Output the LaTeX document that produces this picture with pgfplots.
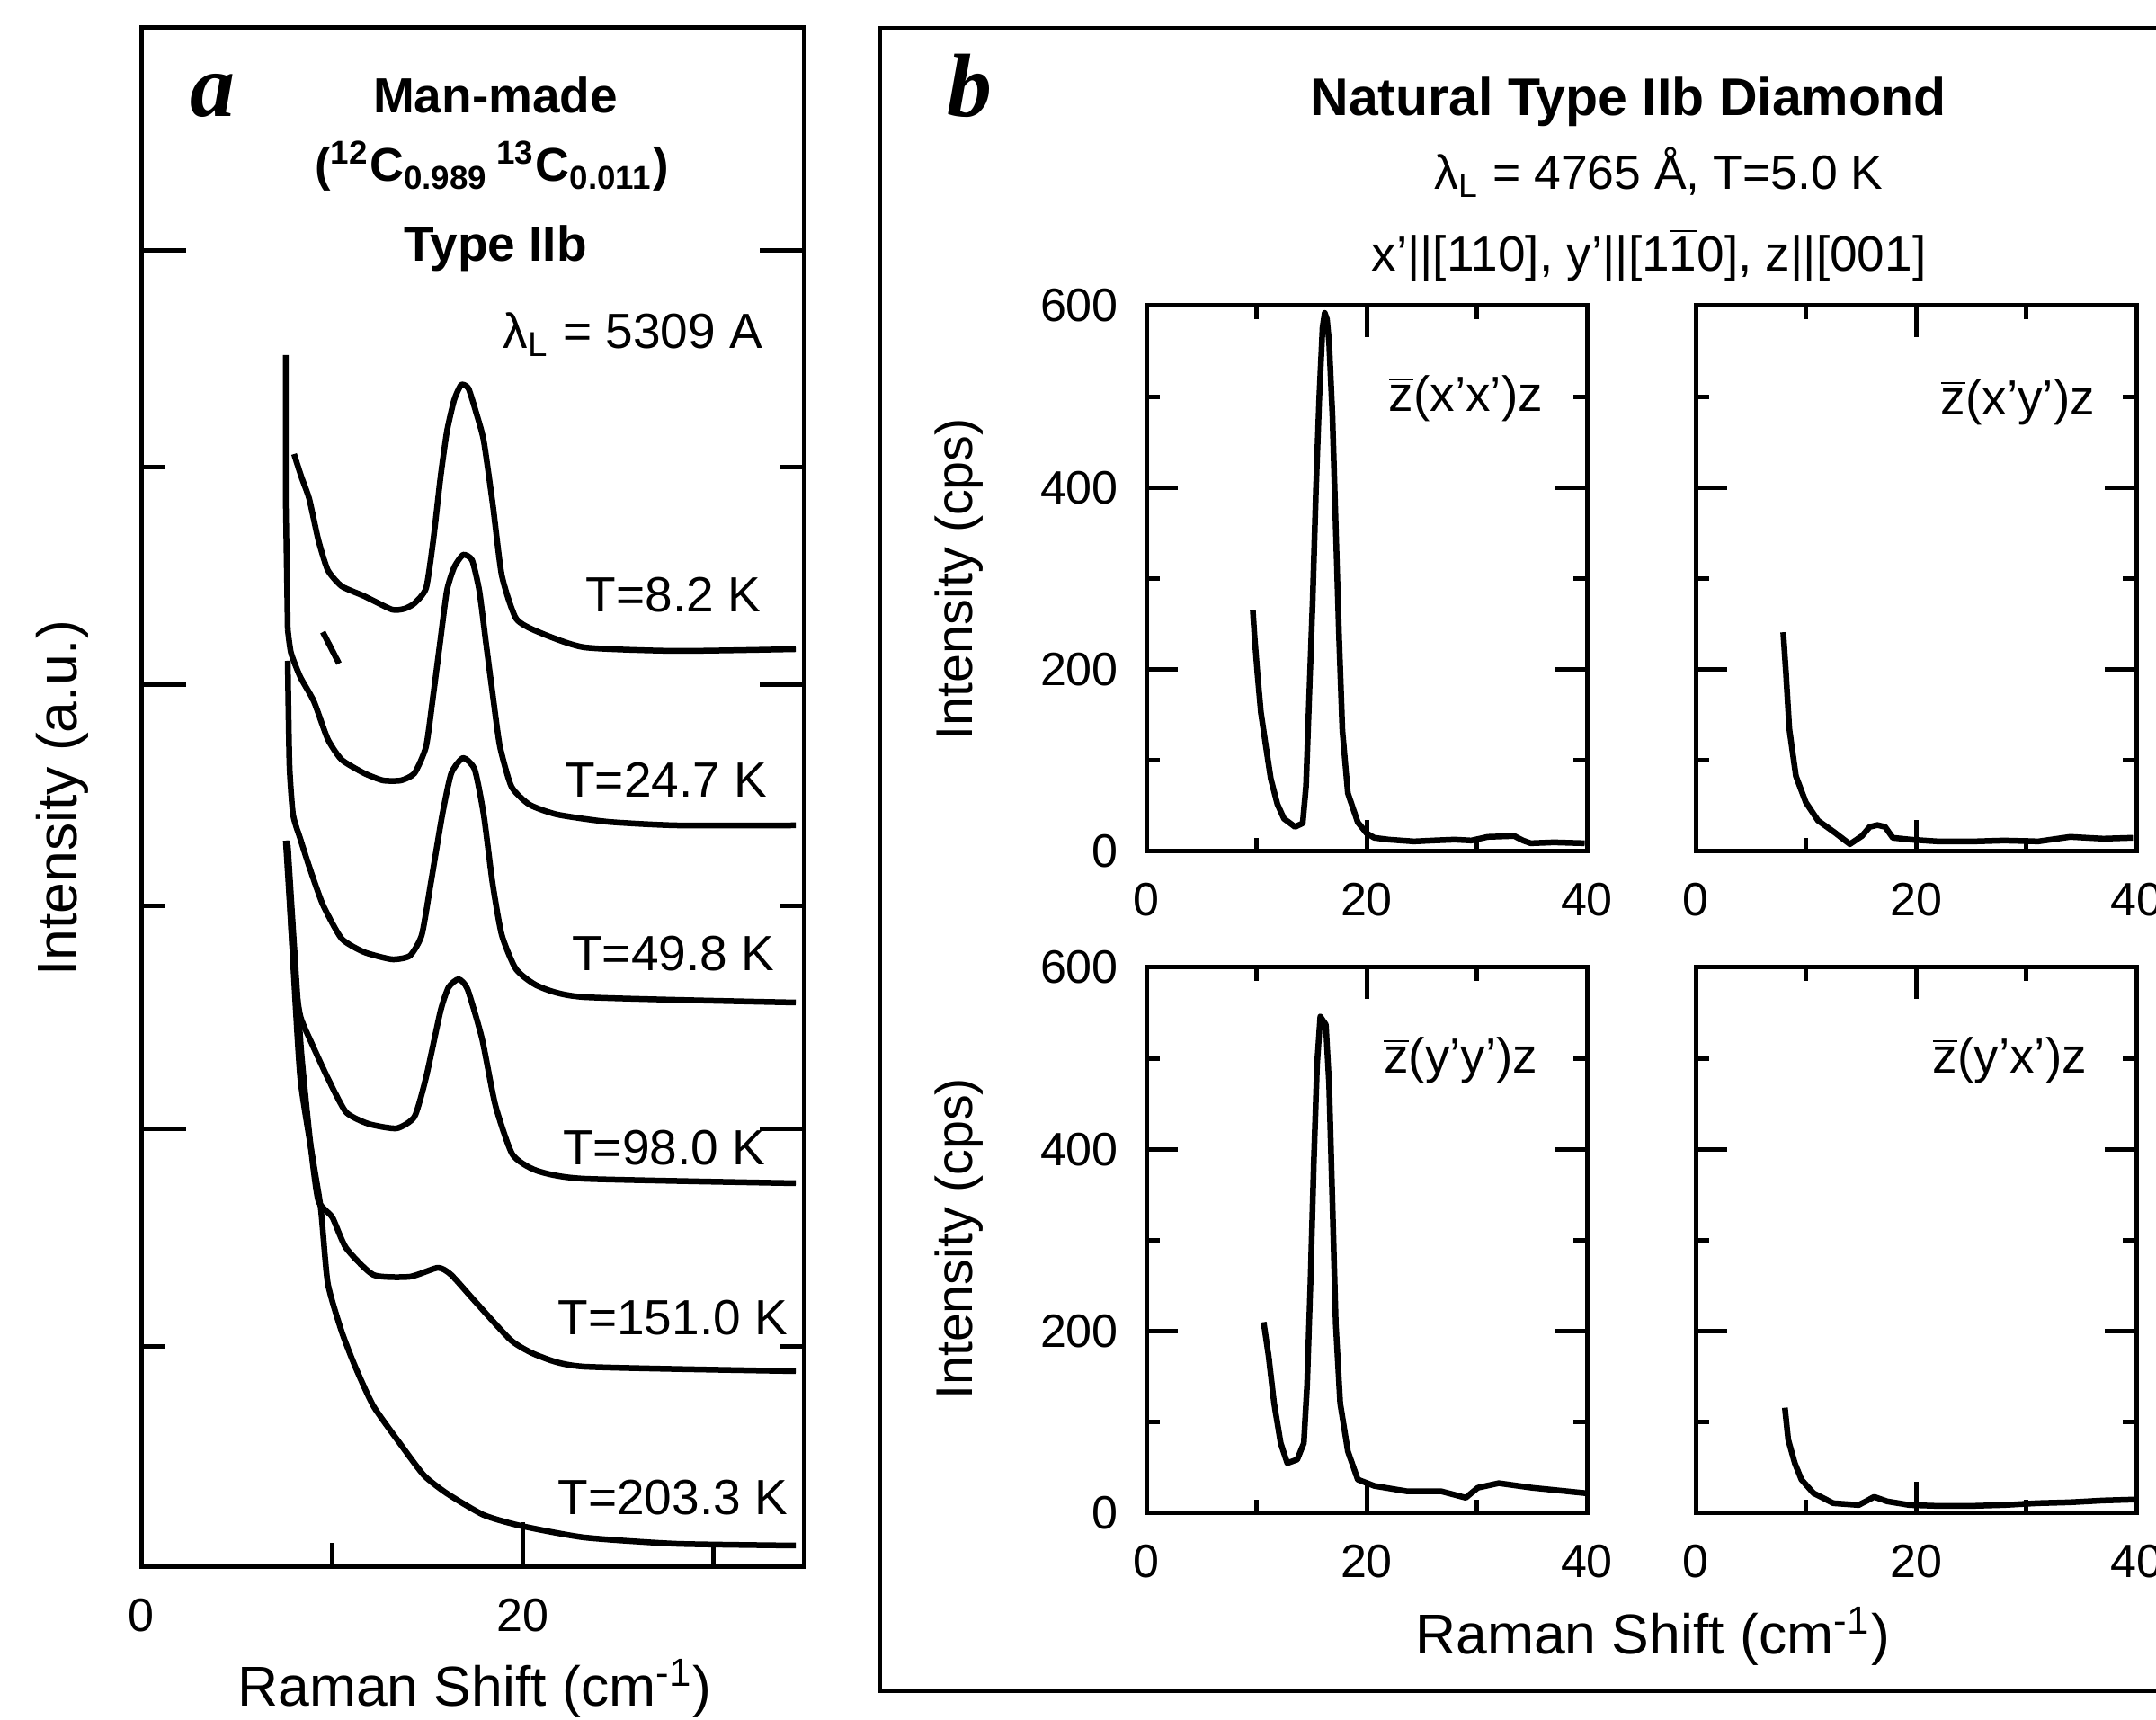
\documentclass[border=0pt]{standalone}
\usepackage{fontspec}
\setmainfont{Liberation Sans}
\newfontfamily\serifbi{Liberation Serif}
\usepackage{pgfplots}
\pgfplotsset{compat=1.18}
\pgfplotsset{
  every axis/.append style={
    scale only axis,
    axis line style={line width=1pt},
    tick align=inside,
    every tick/.append style={line width=1pt, black},
    /pgf/number format/assume math mode=true,
    tick label style={font=\fontsize{10.4}{12}\selectfont},
    xticklabel style={yshift=-3.5pt},
    yticklabel style={xshift=-2.7pt},
  },
  curve/.style={black, solid, line width=1.3pt, line join=round, mark=none},
  scurve/.style={curve, smooth, tension=0.35},
  sub/.style={
    width=98pt, height=121.4pt,
    xmin=0, xmax=40, ymin=0, ymax=600,
    xtick={0,20,40}, minor xtick={10,30},
    ytick={0,200,400,600}, minor ytick={100,300,500},
    major tick length=7pt, minor tick length=3pt,
  },
}
\begin{document}
\begin{tikzpicture}
\useasboundingbox (0,0) rectangle (479.6pt,382.6pt);
\fill[white] (0,0) rectangle (479.6pt,382.6pt);

% ---------------- panel a ----------------
\begin{axis}[at={(31.4pt,34pt)}, anchor=south west,
  width=147.6pt, height=342.4pt,
  xmin=0, xmax=34.81, ymin=0, ymax=1712,
  xtick={0,20}, minor xtick={10,30}, xtick pos=left,
  ytick={487,981,1464}, minor ytick={245,735,1223}, yticklabels={},
  major tick length=10pt, minor tick length=5.4pt,
  xlabel={Raman Shift (cm\textsuperscript{-1})},
  ylabel={Intensity (a.u.)},
  xlabel style={at={(axis description cs:0.5027,-0.0789)}, anchor=center, font=\fontsize{12.5}{15}\selectfont},
  ylabel style={at={(axis description cs:-0.1192,0.4994)}, anchor=center, font=\fontsize{12.5}{15}\selectfont},
]
% T=8.2 K
\addplot[scurve] coordinates {(8.02,1238) (8.40,1213) (8.82,1188) (9.29,1143) (9.79,1109) (10.52,1091) (11.70,1080) (13.16,1065) (13.82,1066) (14.34,1072) (14.95,1089) (15.33,1143) (15.71,1213) (16.04,1263) (16.42,1298) (16.79,1315) (17.17,1311) (17.59,1283) (17.97,1253) (18.44,1183) (18.92,1103) (19.67,1055) (20.85,1040) (23.25,1023) (28.07,1019) (34.34,1021)};
% T=24.7 K
\addplot[curve] coordinates {(7.59,1348) (7.59,1183) (7.69,1043)};
\addplot[scurve] coordinates {(7.69,1043) (7.86,1017) (8.35,990) (9.06,963) (9.79,921) (10.52,898) (11.70,883) (12.69,875) (13.63,875) (14.34,883) (14.95,913) (15.33,971) (15.68,1028) (16.04,1086) (16.42,1112) (16.89,1126) (17.36,1120) (17.74,1086) (18.09,1028) (18.44,971) (18.82,913) (19.43,868) (20.38,848) (21.84,837) (24.48,829) (28.07,825) (34.34,825)};
% stray mark
\addplot[curve] coordinates {(9.53,1040) (10.38,1005)};
% T=49.8 K
\addplot[scurve] coordinates {(7.69,1008) (7.78,893) (7.97,837) (8.35,810) (8.82,779) (9.53,737) (10.52,699) (11.70,684) (13.16,676) (14.10,680) (14.72,703) (15.19,760) (15.80,837) (16.27,883) (16.89,900) (17.50,887) (17.97,837) (18.44,760) (18.92,703) (19.67,665) (20.85,646) (23.25,634) (34.34,628)};
% T=98.0 K
\addplot[scurve] coordinates {(7.59,808) (7.78,743) (8.02,663) (8.35,613) (8.94,583) (9.79,544) (10.75,506) (11.93,493) (13.40,488) (14.34,501) (14.95,545) (15.71,619) (16.13,645) (16.65,654) (17.12,643) (17.88,588) (18.58,514) (19.48,459) (20.75,441) (23.25,432) (34.34,427)};
% T=151.0 K
\addplot[scurve] coordinates {(7.69,803) (8.02,693) (8.40,573) (8.87,473) (9.29,408) (10.03,389) (10.75,355) (12.19,325) (14.10,323) (15.57,333) (16.27,325) (17.50,296) (19.42,252) (20.85,235) (23.25,223) (34.34,218)};
% T=203.3 K
\addplot[scurve] coordinates {(7.64,808) (7.92,693) (8.35,544) (9.06,447) (9.43,398) (9.79,316) (10.52,262) (11.23,223) (12.19,179) (13.63,136) (14.84,102) (16.04,82) (17.97,58) (19.91,46) (23.25,33) (28.07,26) (34.34,24)};
\end{axis}

% ---------------- panel b subplots ----------------
\begin{axis}[sub, at={(255pt,193.2pt)}, anchor=south west,
  ylabel={Intensity (cps)},
  ylabel style={at={(axis description cs:-0.4245,0.499)}, anchor=center, font=\fontsize{11.5}{14}\selectfont},
]
\addplot[curve] coordinates {(9.67,265) (9.83,235) (10.1,194) (10.4,153) (10.9,112) (11.3,80) (11.9,52) (12.5,36) (13.5,27) (14.2,31) (14.5,72) (14.8,174) (15.1,275) (15.4,397) (15.7,498) (16.0,576) (16.2,592) (16.4,585) (16.6,559) (16.9,478) (17.2,356) (17.5,235) (17.8,133) (18.3,64) (19.2,32) (20.0,20) (20.7,15) (22,13) (24.3,11) (26,12) (28,13) (29.5,12) (31,16) (33.4,17) (34.2,12) (34.9,9) (37,10) (39.8,9)};
\end{axis}

\begin{axis}[sub, at={(377.2pt,193.2pt)}, anchor=south west, yticklabels={}]
\addplot[curve] coordinates {(7.95,241) (8.2,196) (8.5,135) (9.1,83) (10.0,54) (11.1,34) (12.6,21) (14.0,8) (15.1,17) (15.8,27) (16.5,29) (17.2,27) (17.9,15) (19.5,13) (22,11) (25.3,11) (28,12) (31.1,11) (34.0,16) (37,14) (39.7,15)};
\end{axis}

\begin{axis}[sub, at={(255pt,46pt)}, anchor=south west,
  ylabel={Intensity (cps)},
  ylabel style={at={(axis description cs:-0.4245,0.5025)}, anchor=center, font=\fontsize{11.5}{14}\selectfont},
  xlabel={Raman Shift (cm\textsuperscript{-1})},
  xlabel style={at={(axis description cs:1.149,-0.2257)}, anchor=center, font=\fontsize{12.5}{15}\selectfont},
]
\addplot[curve] coordinates {(10.65,210) (11.1,173) (11.6,121) (12.2,77) (12.8,55) (13.7,59) (14.3,77) (14.6,142) (14.9,252) (15.2,383) (15.5,493) (15.8,546) (16.3,537) (16.6,471) (16.9,340) (17.2,208) (17.6,121) (18.3,68) (19.2,37) (20.7,30) (23.7,24) (26.8,24) (29.0,17) (30.1,28) (32.0,33) (35.0,28) (39.9,22)};
\end{axis}

\begin{axis}[sub, at={(377.2pt,46pt)}, anchor=south west, yticklabels={}]
\addplot[curve] coordinates {(8.1,116) (8.4,81) (9.0,55) (9.6,37) (10.7,22) (12.5,11) (14.8,9) (15.6,14) (16.2,18) (17.4,13) (19.4,9) (22,8) (25,8) (28,9) (31,11) (34,12) (37,14) (39.8,15)};
\end{axis}

% panel b frame
\draw[line width=0.8pt] (195.8pt,6.4pt) rectangle (490pt,376.4pt);

% ---------------- texts ----------------
\node[anchor=base west, inner sep=0pt, font=\serifbi\bfseries\itshape\fontsize{20}{22}\selectfont] at (42pt,356.6pt) {a};
\node[anchor=base west, inner sep=0pt, font=\serifbi\bfseries\itshape\fontsize{20}{22}\selectfont] at (210.4pt,356.6pt) {b};

\node[anchor=base, inner sep=0pt, font=\bfseries\fontsize{11}{13}\selectfont] at (110.2pt,357.4pt) {Man-made};
\node[anchor=base, inner sep=0pt, font=\bfseries\fontsize{10.5}{13}\selectfont] at (109.4pt,342.2pt) {(\textsuperscript{12}C\textsubscript{0.989}\,\textsuperscript{13}C\textsubscript{0.011})};
\node[anchor=base, inner sep=0pt, font=\bfseries\fontsize{11}{13}\selectfont] at (110.2pt,324.4pt) {Type IIb};
\node[anchor=base east, inner sep=0pt, font=\fontsize{11}{13}\selectfont] at (169.8pt,305pt) {λ\textsubscript{L} = 5309 A};

\node[anchor=base east, inner sep=0pt, font=\fontsize{11}{13}\selectfont] at (169.4pt,246.4pt) {T=8.2 K};
\node[anchor=base east, inner sep=0pt, font=\fontsize{11}{13}\selectfont] at (170.8pt,205.2pt) {T=24.7 K};
\node[anchor=base east, inner sep=0pt, font=\fontsize{11}{13}\selectfont] at (172.4pt,166.6pt) {T=49.8 K};
\node[anchor=base east, inner sep=0pt, font=\fontsize{11}{13}\selectfont] at (170.4pt,123.4pt) {T=98.0 K};
\node[anchor=base east, inner sep=0pt, font=\fontsize{11}{13}\selectfont] at (175.4pt,85.6pt) {T=151.0 K};
\node[anchor=base east, inner sep=0pt, font=\fontsize{11}{13}\selectfont] at (175.4pt,45.6pt) {T=203.3 K};

\node[anchor=base, inner sep=0pt, font=\bfseries\fontsize{11.8}{14}\selectfont] at (362.2pt,356.8pt) {Natural Type IIb Diamond};
\node[anchor=base, inner sep=0pt, font=\fontsize{10.7}{13}\selectfont] at (369pt,340.4pt) {λ\textsubscript{L} = 4765 Å, T=5.0 K};
\node[anchor=base, inner sep=0pt, font=\fontsize{11}{13}\selectfont] at (366.8pt,322.2pt) {x'||[110], y'||[1$\overline{\mbox{1}}$0], z||[001]};

\node[anchor=base east, inner sep=0pt, font=\fontsize{11}{13}\selectfont] at (343.4pt,291pt) {$\overline{\mbox{z}}$(x'x')z};
\node[anchor=base east, inner sep=0pt, font=\fontsize{11}{13}\selectfont] at (466.2pt,290.2pt) {$\overline{\mbox{z}}$(x'y')z};
\node[anchor=base east, inner sep=0pt, font=\fontsize{11}{13}\selectfont] at (342.3pt,143.8pt) {$\overline{\mbox{z}}$(y'y')z};
\node[anchor=base east, inner sep=0pt, font=\fontsize{11}{13}\selectfont] at (464.4pt,143.8pt) {$\overline{\mbox{z}}$(y'x')z};
\end{tikzpicture}
\end{document}
